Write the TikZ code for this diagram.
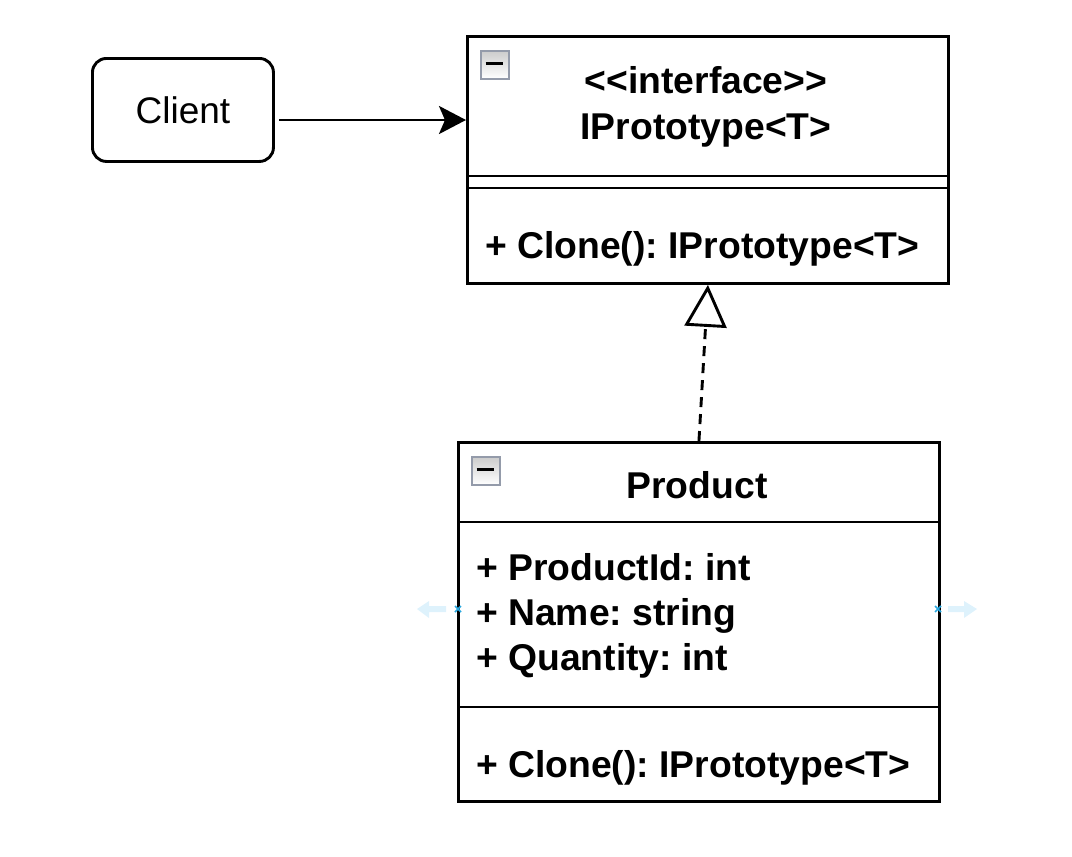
\documentclass[tikz,border=0pt]{standalone}
\usepackage{fontspec}
\setmainfont{Liberation Sans}
\usetikzlibrary{arrows.meta,calc}
\frenchspacing
\definecolor{iconborder}{RGB}{148,155,170}
\definecolor{hoverblue}{RGB}{222,242,252}
\definecolor{markblue}{RGB}{41,168,224}
\tikzset{
  line/.style={line width=2.9pt, draw=black},
  umlbox/.style={line, rectangle, inner sep=0pt, fill=white},
  clientbox/.style={line, rectangle, rounded corners=14pt, inner sep=0pt, font=\fontsize{37}{44}\selectfont},
  boldtxt/.style={anchor=base, inner sep=0pt, font=\fontsize{37.3}{44}\selectfont\bfseries},
  lefttxt/.style={boldtxt, anchor=base west},
  collapseicon/.style={draw=iconborder, line width=1.8pt, top color=gray!40, bottom color=white, minimum size=28pt, inner sep=0pt, anchor=north west},
  hoverarrow/.style={fill=hoverblue, draw=none},
  xmark/.style={draw=markblue, line width=1.6pt},
}
\begin{document}
\begin{tikzpicture}[x=1pt, y=-1pt]
\useasboundingbox (0,0) rectangle (1072,857);

% Client
\node[clientbox, minimum width=181pt, minimum height=103pt, anchor=north west] (client) at (91,57) {Client};

% Interface box
\node[umlbox, minimum width=481pt, minimum height=247pt, anchor=north west] (iface) at (466,35) {};
\draw[line] (466,176) -- (947,176);
\draw[line] (466,188) -- (947,188);
\node[collapseicon] (iicon) at (480,50) {};
\draw[line width=3pt] (485.5,63.5) -- (502.5,63.5);
\node[boldtxt] (istereo) at (706,93) {<{}<interface>{}>};
\node[boldtxt] (iname) at (706,139) {IPrototype<T>};
\node[lefttxt] (imeth) at (485,258) {+ Clone(): IPrototype<T>};

% Product box
\node[umlbox, minimum width=481pt, minimum height=359pt, anchor=north west] (prod) at (457,441) {};
\draw[line] (457,522) -- (938,522);
\draw[line] (457,707) -- (938,707);
\node[collapseicon] (picon) at (471,456) {};
\draw[line width=3pt] (476.5,469.5) -- (493.5,469.5);
\node[boldtxt] (pname) at (697,498) {Product};
\node[lefttxt] (pa1) at (476,580) {+ ProductId: int};
\node[lefttxt] (pa2) at (476,625) {+ Name: string};
\node[lefttxt] (pa3) at (476,670) {+ Quantity: int};
\node[lefttxt] (pm1) at (476,777) {+ Clone(): IPrototype<T>};

% hover arrows
\fill[hoverarrow] (446,606) -- (429,606) -- (429,601) -- (417,609) -- (429,618) -- (429,612) -- (446,612) -- cycle;
\fill[hoverarrow] (948,606) -- (964,606) -- (964,601) -- (977,609) -- (964,618) -- (964,612) -- (948,612) -- cycle;
\draw[xmark] (455,606) -- (461,612) (455,612) -- (461,606);
\draw[xmark] (935,606) -- (941,612) (935,612) -- (941,606);

% connectors
\coordinate (cstart) at (279,120);
\draw[line, -{Stealth[length=27pt, width=28pt, inset=6pt]}] (cstart) -- (cstart -| iface.west);
\draw[line, dash pattern=on 10pt off 7pt, -{Triangle[open, length=42pt, width=42pt]}] (prod.north) -- (iface.south);
\end{tikzpicture}
\end{document}
